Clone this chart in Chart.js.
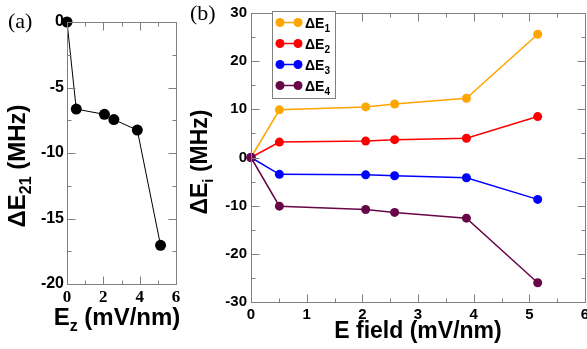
<!DOCTYPE html>
<html><head><meta charset="utf-8">
<script src="https://cdn.jsdelivr.net/npm/chart.js@4/dist/chart.umd.min.js"></script>
<style>
html,body{margin:0;padding:0;background:#fff;overflow:hidden;width:587px;height:349px;}
#ca{position:absolute;left:0;top:0;width:200px;height:349px;}
#cb{position:absolute;left:190px;top:0;width:420px;height:349px;}
</style></head><body>
<canvas id="ca" width="200" height="349"></canvas>
<canvas id="cb" width="420" height="349"></canvas>
<script>
// ---- data ----
const field = [0, 0.51, 2.06, 2.58, 3.87, 5.15];          // E field (mV/nm)
const dE21  = [0, -6.65, -7.05, -7.45, -8.25, -17.05];      // panel (a)
const dE1   = [0, 9.9, 10.5, 11.1, 12.3, 25.6];
const dE2   = [0, 3.2, 3.4, 3.7, 4.0, 8.5];
const dE3   = [0, -3.5, -3.6, -3.8, -4.2, -8.7];
const dE4   = [0, -10.1, -10.8, -11.4, -12.6, -26.0];
const seriesSubs   = ['1', '2', '3', '4'];
const seriesColors = ['#FFA500', '#FF0000', '#0000FF', '#670748'];
const xTicksA = [0, 2, 4, 6];
const yTicksA = [-20, -15, -10, -5, 0];
const xTicksB = [0, 1, 2, 3, 4, 5, 6];
const yTicksB = [-30, -20, -10, 0, 10, 20, 30];

const SANS = '"Liberation Sans", Arial, sans-serif';
const SERIF = '"Liberation Serif", "Times New Roman", serif';
const FRAME = '#808080';

function pts(xs, ys){ return xs.map((x,i)=>({x:x, y:ys[i]})); }
function fixedTicks(arr){ return function(scale){ scale.ticks = arr.map(v=>({value:v})); }; }

function drawRich(ctx, x, y, parts){
  let total = 0;
  parts.forEach(p=>{ ctx.font = p.f; p.w = ctx.measureText(p.t).width; total += p.w; });
  let cx = x - total/2;
  ctx.textAlign = 'left'; ctx.textBaseline = 'alphabetic';
  parts.forEach(p=>{ ctx.font = p.f; ctx.fillText(p.t, cx, y + (p.dy||0)); cx += p.w; });
}

function tickList(t){
  const out = [];
  for (let i = 0; i < t.length; i++){
    out.push([t[i], 8]);
    if (i < t.length - 1) out.push([(t[i] + t[i+1]) / 2, 4]);
  }
  return out;
}

// frame + inward ticks, positioned with the chart's own scales
function drawFrame(chart, xt, yt){
  const ctx = chart.ctx;
  const a = chart.chartArea;
  const xs = chart.scales['x'];
  const ys = chart.scales['y'];
  const L = Math.round(a.left) + 0.5, R = Math.round(a.right) + 0.5;
  const T = Math.round(a.top) + 0.5, B = Math.round(a.bottom) + 0.5;
  ctx.save();
  ctx.strokeStyle = FRAME;
  ctx.lineWidth = 1;
  ctx.strokeRect(L, T, R - L, B - T);
  const xv = tickList(xt), yv = tickList(yt);
  for (let k = 0; k < xv.length; k++){
    const p = Math.round(xs.getPixelForValue(xv[k][0])) + 0.5, len = xv[k][1];
    ctx.beginPath();
    ctx.moveTo(p, B); ctx.lineTo(p, B - len);
    ctx.moveTo(p, T); ctx.lineTo(p, T + len);
    ctx.stroke();
  }
  for (let k = 0; k < yv.length; k++){
    const p = Math.round(ys.getPixelForValue(yv[k][0])) + 0.5, len = yv[k][1];
    ctx.beginPath();
    ctx.moveTo(L, p); ctx.lineTo(L + len, p);
    ctx.moveTo(R, p); ctx.lineTo(R - len, p);
    ctx.stroke();
  }
  ctx.restore();
  return [L, T, R, B].join(',');
}

function plainAxis(axis, min, max, vals, size, pad, font){
  return {
    type: 'linear', min: min, max: max,
    afterBuildTicks: fixedTicks(vals),
    afterFit: s => { if (axis === 'x') s.height = size; else s.width = size; },
    grid: { display: false, drawTicks: false }, border: { display: false },
    ticks: { padding: pad, color: '#000', font: font, maxRotation: 0 }
  };
}

// ---- panel (a) ----
const chartA = new Chart(document.getElementById('ca'), {
  type: 'scatter',
  data: { datasets: [{
    label: 'ΔE21', data: pts(field, dE21), showLine: true,
    borderColor: '#000', borderWidth: 1, backgroundColor: '#000',
    pointRadius: 5.5, pointBorderWidth: 0, clip: false
  }]},
  options: {
    responsive: false, animation: false, devicePixelRatio: 1,
    layout: { autoPadding: false, padding: { top: 22, right: 24, left: 0, bottom: 0 } },
    plugins: { legend: { display: false }, tooltip: { enabled: false } },
    scales: {
      x: plainAxis('x', 0, 6, xTicksA, 65, 3, { family: SERIF, weight: 'bold', size: 17 }),
      y: plainAxis('y', -20, 0, yTicksA, 67, 3, { family: SANS, weight: 'bold', size: 16 })
    }
  },
  plugins: [{
    id: 'decorA',
    afterDraw(chart){
      const ctx = chart.ctx;
      try { drawFrame(chart, xTicksA, yTicksA); } catch (e) {}
      ctx.save(); ctx.fillStyle = '#000';
      ctx.font = '22px ' + SERIF; ctx.textAlign = 'left'; ctx.textBaseline = 'alphabetic';
      ctx.fillText('(a)', 8, 28);
      drawRich(ctx, 117, 325, [
        {t:'E', f:'bold 24px '+SANS}, {t:'z', f:'bold 16px '+SANS, dy:6}, {t:' (mV/nm)', f:'bold 24px '+SANS}]);
      ctx.restore();
      ctx.save(); ctx.fillStyle = '#000';
      ctx.translate(25, 166); ctx.rotate(-Math.PI/2);
      drawRich(ctx, 0, 0, [
        {t:'ΔE', f:'bold 24px '+SANS}, {t:'21', f:'bold 16px '+SANS, dy:6}, {t:' (MHz)', f:'bold 24px '+SANS}]);
      ctx.restore();
    }
  }]
});

// ---- panel (b) ----
const seriesB = [dE1, dE2, dE3, dE4];
const chartB = new Chart(document.getElementById('cb'), {
  type: 'scatter',
  data: { datasets: seriesB.map((ys, i) => ({
    label: 'ΔE' + seriesSubs[i], data: pts(field, ys), showLine: true,
    borderColor: seriesColors[i], backgroundColor: seriesColors[i], borderWidth: 1.5,
    pointRadius: 4.5, pointBorderWidth: 0, clip: false,
    order: seriesB.length - 1 - i
  }))},
  options: {
    responsive: false, animation: false, devicePixelRatio: 1,
    layout: { autoPadding: false, padding: { top: 9, right: 25, left: 0, bottom: 0 } },
    plugins: { legend: { display: false }, tooltip: { enabled: false } },
    scales: {
      x: plainAxis('x', 0, 6, xTicksB, 47, 4, { family: SANS, weight: 'bold', size: 15 }),
      y: plainAxis('y', -30, 30, yTicksB, 61, 4, { family: SANS, weight: 'bold', size: 15 })
    }
  },
  plugins: [{
    id: 'decorB',
    afterDraw(chart){
      const ctx = chart.ctx;
      try { drawFrame(chart, xTicksB, yTicksB); } catch (e) {}
      ctx.save(); ctx.fillStyle = '#000';
      ctx.font = '22px ' + SERIF; ctx.textAlign = 'left'; ctx.textBaseline = 'alphabetic';
      ctx.fillText('(b)', 0, 20);
      drawRich(ctx, 228, 338, [{t:'E field (mV/nm)', f:'bold 23px '+SANS}]);
      // legend
      const bx = 82.5, by = 11.5, bw = 63, bh = 87;
      ctx.fillStyle = '#fff';
      ctx.fillRect(bx, by, bw, bh);
      ctx.strokeStyle = FRAME; ctx.lineWidth = 1;
      ctx.strokeRect(bx, by, bw, bh);
      chart.data.datasets.forEach((ds, i) => {
        const y = 22.5 + i * 21;
        ctx.strokeStyle = ds.borderColor; ctx.lineWidth = 1.5;
        ctx.beginPath(); ctx.moveTo(90, y); ctx.lineTo(108, y); ctx.stroke();
        ctx.fillStyle = ds.backgroundColor;
        [90, 108].forEach(cx => { ctx.beginPath(); ctx.arc(cx, y, 4.5, 0, Math.PI*2); ctx.fill(); });
        ctx.fillStyle = '#000';
        ctx.font = 'bold 14px ' + SANS; ctx.textAlign = 'left';
        ctx.fillText('ΔE', 115, y + 5);
        const w = ctx.measureText('ΔE').width;
        ctx.font = 'bold 10px ' + SANS;
        ctx.fillText(seriesSubs[i], 115 + w, y + 9);
      });
      ctx.restore();
      ctx.save(); ctx.fillStyle = '#000';
      ctx.translate(17, 162); ctx.rotate(-Math.PI/2);
      drawRich(ctx, 0, 0, [
        {t:'ΔE', f:'bold 23px '+SANS}, {t:'i', f:'bold 15px '+SANS, dy:6}, {t:' (MHz)', f:'bold 23px '+SANS}]);
      ctx.restore();
    }
  }]
});
</script>
</body></html>
